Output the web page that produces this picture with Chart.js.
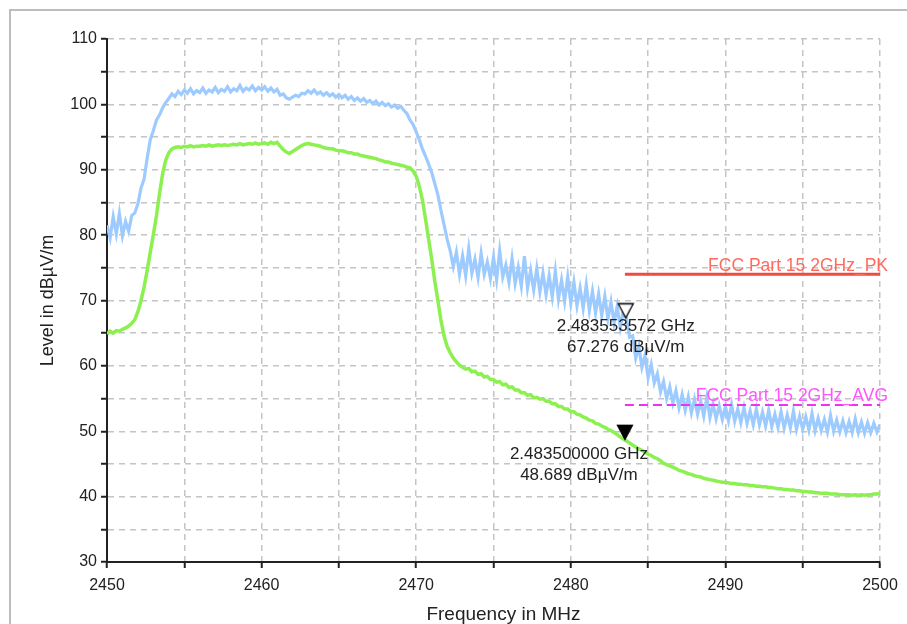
<!DOCTYPE html>
<html>
<head>
<meta charset="utf-8">
<script src="https://cdn.jsdelivr.net/npm/chart.js@4.4.1/dist/chart.umd.min.js"></script>
<style>
  html, body { margin: 0; padding: 0; background: #fff; }
  #wrap { position: relative; width: 907px; height: 624px; }
</style>
</head>
<body>
<div id="wrap"><canvas id="chart" width="907" height="624"></canvas></div>
<script>
// sweep 2450 - 2500 MHz, one reading every 0.2 MHz
const startFreq = 2450;
const stepMHz = 0.2;

// peak detector trace (blue), dBµV/m
const peakTrace = [
  81.5, 79.6, 82.8, 80.2, 83.3, 79.9, 82.1, 80.6, 83.0, 83.4,
  84.8, 87.2, 88.6, 91.8, 94.6, 96.0, 97.6, 98.4, 99.5, 100.3,
  100.9, 101.6, 101.2, 102.0, 101.5, 102.2, 101.7, 102.4, 101.6, 102.1,
  101.8, 102.5, 101.7, 102.2, 101.9, 102.6, 101.8, 102.3, 102.0, 102.7,
  101.9, 102.4, 102.1, 102.9, 102.0, 102.5, 102.2, 102.8, 102.1, 102.6,
  102.2, 102.7, 102.0, 102.5, 101.9, 102.3, 101.4, 101.6, 101.0, 100.8,
  101.1, 101.4, 101.2, 101.7, 101.6, 102.1, 101.7, 102.2, 101.6, 101.9,
  101.4, 101.8, 101.3, 101.6, 101.1, 101.5, 101.0, 101.4, 100.8, 101.2,
  100.6, 101.0, 100.5, 100.9, 100.3, 100.6, 100.1, 100.5, 99.9, 100.3,
  99.8, 100.1, 99.6, 99.9, 99.4, 99.7, 99.1, 98.6, 97.6, 96.9,
  95.8, 94.6, 93.2, 92.1, 90.9, 89.6, 87.9, 86.2, 83.8, 81.6,
  79.4, 77.6, 75.2, 77.4, 74.0, 76.8, 73.8, 77.9, 74.2, 76.3,
  73.5, 77.2, 74.0, 75.9, 73.4, 76.6, 73.2, 77.6, 73.6, 75.4,
  72.8, 76.4, 72.6, 75.1, 72.2, 76.8, 71.9, 74.6, 71.6, 74.9,
  71.3, 74.2, 70.9, 73.8, 70.6, 74.5, 70.2, 73.1, 69.9, 73.6,
  69.6, 72.8, 69.2, 71.9, 68.8, 72.4, 68.5, 71.4, 68.1, 71.0,
  67.7, 70.6, 67.2, 69.8, 66.6, 69.1, 65.9, 68.4, 67.3, 64.4,
  64.6, 61.2, 63.0, 59.8, 61.6, 58.2, 60.2, 57.4, 58.8, 56.0,
  57.6, 55.0, 56.8, 54.3, 56.2, 53.6, 55.6, 53.2, 55.3, 52.8,
  54.9, 52.6, 54.6, 52.3, 55.2, 52.1, 54.2, 51.9, 53.9, 51.8,
  53.8, 51.6, 54.1, 51.5, 53.4, 51.3, 53.6, 51.2, 53.1, 51.0,
  53.4, 51.0, 52.9, 50.8, 53.2, 50.7, 52.6, 50.6, 53.0, 50.5,
  52.5, 50.5, 53.1, 50.3, 52.3, 50.3, 52.2, 50.2, 52.7, 50.1,
  52.0, 50.1, 51.8, 49.9, 52.4, 50.0, 51.7, 49.9, 51.6, 49.8,
  51.5, 49.8, 51.9, 49.8, 51.4, 49.7, 51.3, 49.8, 51.2, 49.9,
  51.0
];

// average detector trace (green), dBµV/m
const avgTrace = [
  64.9, 65.3, 65.0, 65.4, 65.3, 65.6, 65.8, 66.1, 66.5, 67.1,
  68.3, 70.0, 72.1, 74.6, 77.4, 80.1, 83.0, 86.4, 89.4, 91.5,
  92.6, 93.2, 93.4, 93.5, 93.4, 93.6, 93.5, 93.7, 93.5, 93.6,
  93.6, 93.7, 93.6, 93.8, 93.6, 93.7, 93.8, 93.7, 93.8, 93.7,
  93.8, 93.9, 93.8, 94.0, 93.8, 93.9, 94.0, 93.9, 94.1, 93.9,
  94.0, 94.1, 93.9, 94.2, 94.0, 94.2, 93.6, 93.1, 92.7, 92.5,
  92.8, 93.1, 93.4, 93.7, 93.9, 94.0, 93.9, 93.8, 93.7, 93.6,
  93.4, 93.3, 93.2, 93.2, 93.0, 92.9, 92.9, 92.8, 92.6, 92.6,
  92.4, 92.4, 92.2, 92.1, 92.0, 91.9, 91.8, 91.7, 91.5, 91.4,
  91.2, 91.2, 91.0, 90.9, 90.8, 90.7, 90.6, 90.4, 90.3, 89.8,
  89.0, 87.5, 85.4, 82.5, 79.4, 76.4, 73.0, 70.0, 67.0, 64.6,
  63.0, 62.0, 61.2, 60.6, 60.1, 59.8, 59.5, 59.6, 59.1, 59.2,
  58.7, 58.8, 58.3, 58.4, 57.9, 57.9, 57.5, 57.6, 57.1, 57.2,
  56.7, 56.8, 56.3, 56.3, 55.9, 55.9, 55.5, 55.6, 55.1, 55.2,
  54.9, 55.0, 54.6, 54.6, 54.2, 54.2, 53.8, 53.8, 53.4, 53.4,
  53.0, 53.0, 52.6, 52.5, 52.2, 52.0, 51.7, 51.6, 51.2, 51.1,
  50.8, 50.6, 50.3, 50.1, 49.8, 49.5, 49.1, 48.8, 48.5, 48.2,
  47.9, 47.6, 47.3, 47.1, 46.8, 46.5, 46.3, 46.0, 45.8, 45.5,
  45.1, 44.9, 44.7, 44.5, 44.3, 44.0, 43.9, 43.7, 43.5, 43.4,
  43.2, 43.1, 43.0, 42.8, 42.7, 42.6, 42.5, 42.4, 42.3, 42.2,
  42.2, 42.1, 42.0, 42.0, 41.9, 41.9, 41.8, 41.8, 41.7, 41.7,
  41.6, 41.6, 41.5, 41.5, 41.4, 41.4, 41.3, 41.2, 41.2, 41.1,
  41.1, 41.0, 41.0, 40.9, 40.9, 40.8, 40.8, 40.7, 40.7, 40.6,
  40.6, 40.5, 40.5, 40.5, 40.4, 40.4, 40.4, 40.3, 40.3, 40.3,
  40.3, 40.2, 40.3, 40.2, 40.3, 40.2, 40.3, 40.3, 40.4, 40.4,
  40.5
];

// limit lines
const limitFreq = [2483.5, 2500];
const pkLimit = [74, 74];
const avgLimit = [54, 54];
const pkLimitName = 'FCC Part 15 2GHz_PK';
const avgLimitName = 'FCC Part 15 2GHz_AVG';

// markers: [peak marker, avg marker]
const markerFreq = [2483.553572, 2483.5];
const markerLevel = [67.276, 48.689];
const markerText = [
  ['2.483553572 GHz', '67.276 dBµV/m'],
  ['2.483500000 GHz', '48.689 dBµV/m']
];

const freqs = peakTrace.map((_, i) => +(startFreq + i * stepMHz).toFixed(1));
const FONT = '"Liberation Sans", Arial, sans-serif';

// downward triangle whose tip sits in the middle of the image, so the tip lands on the value
function markerIcon(filled) {
  const c = document.createElement('canvas');
  c.width = 18; c.height = 32;
  const g = c.getContext('2d');
  g.beginPath();
  g.moveTo(1.5, 1.5);
  g.lineTo(16.5, 1.5);
  g.lineTo(9, 15.5);
  g.closePath();
  g.fillStyle = filled ? '#000' : '#fff';
  g.fill();
  g.lineWidth = 1.3;
  g.strokeStyle = '#000';
  g.stroke();
  return c;
}

const decor = {
  id: 'decor',
  beforeDraw(chart) {
    const ctx = chart.ctx;
    ctx.save();
    ctx.fillStyle = '#fff';
    ctx.fillRect(0, 0, chart.width, chart.height);
    ctx.strokeStyle = '#bdbdbd';
    ctx.lineWidth = 2;
    ctx.beginPath();
    ctx.moveTo(10, chart.height);
    ctx.lineTo(10, 10);
    ctx.lineTo(chart.width, 10);
    ctx.stroke();
    ctx.restore();
  },
  afterDatasetsDraw(chart) {
    const ctx = chart.ctx;
    const xs = chart.scales.x, ys = chart.scales.y;
    ctx.save();
    ctx.font = '17.5px ' + FONT;
    // limit line names
    ctx.textAlign = 'right';
    ctx.textBaseline = 'alphabetic';
    ctx.fillStyle = '#ff6a5e';
    ctx.fillText(pkLimitName, xs.right + 8, ys.getPixelForValue(pkLimit[1]) - 3);
    ctx.fillStyle = '#ff55ff';
    ctx.fillText(avgLimitName, xs.right + 8, ys.getPixelForValue(avgLimit[1]) - 4);
    // marker read-outs
    ctx.font = '17px ' + FONT;
    ctx.textAlign = 'center';
    ctx.textBaseline = 'middle';
    ctx.fillStyle = '#222';
    const shift = [[0, 8], [-46, 14]];
    markerFreq.forEach((f, i) => {
      const px = xs.getPixelForValue(f) + shift[i][0];
      const py = ys.getPixelForValue(markerLevel[i]) + shift[i][1];
      ctx.fillText(markerText[i][0], px, py);
      ctx.fillText(markerText[i][1], px, py + 21);
    });
    // x axis title, sits a little right of the plot centre
    ctx.font = '19px ' + FONT;
    ctx.textBaseline = 'middle';
    ctx.fillText('Frequency in MHz', (xs.left + xs.right) / 2 + 10, xs.bottom - 9);
    ctx.restore();
  }
};

const axisCommon = {
  type: 'linear',
  border: { display: true, color: '#222', width: 2, dash: [6, 5] },
  grid: { color: '#c4c4c4', lineWidth: 1.5, tickLength: 6, tickColor: '#222', tickWidth: 2, tickBorderDash: [] }
};

new Chart(document.getElementById('chart'), {
  type: 'line',
  data: {
    datasets: [
      {
        label: 'Marker',
        data: markerFreq.map((f, i) => ({ x: f, y: markerLevel[i] })),
        showLine: false,
        pointStyle: [markerIcon(false), markerIcon(true)],
        pointRadius: 9,
        order: 0
      },
      {
        label: pkLimitName,
        data: limitFreq.map((f, i) => ({ x: f, y: pkLimit[i] })),
        borderColor: '#f24a42',
        borderWidth: 3,
        pointRadius: 0,
        order: 1
      },
      {
        label: avgLimitName,
        data: limitFreq.map((f, i) => ({ x: f, y: avgLimit[i] })),
        borderColor: '#ee33ee',
        borderWidth: 2,
        borderDash: [9, 5],
        pointRadius: 0,
        order: 2
      },
      {
        label: 'AVG',
        data: freqs.map((f, i) => ({ x: f, y: avgTrace[i] })),
        borderColor: '#8cf050',
        borderWidth: 3.5,
        pointRadius: 0,
        tension: 0,
        order: 3
      },
      {
        label: 'PK',
        data: freqs.map((f, i) => ({ x: f, y: peakTrace[i] })),
        borderColor: '#9dcbff',
        borderWidth: 3.2,
        pointRadius: 0,
        tension: 0,
        order: 4
      }
    ]
  },
  options: {
    responsive: false,
    animation: false,
    layout: { padding: { top: 39, right: 27, left: 0, bottom: 0 } },
    plugins: { legend: { display: false }, tooltip: { enabled: false } },
    scales: {
      x: {
        ...axisCommon,
        min: 2450, max: 2500,
        afterFit(s) { s.height = 62; },
        ticks: {
          stepSize: 5, autoSkip: false, maxRotation: 0, padding: 8,
          color: '#222', font: { size: 16, family: FONT },
          callback: v => (v % 10 === 0 ? String(v) : '')
        }
      },
      y: {
        ...axisCommon,
        min: 30, max: 110,
        afterFit(s) { s.width = 107; },
        ticks: {
          stepSize: 5, autoSkip: false, padding: 4,
          color: '#222', font: { size: 16, family: FONT },
          callback: v => (v % 10 === 0 ? String(v) : '')
        },
        title: { display: true, text: 'Level in dBµV/m', color: '#222', font: { size: 18, family: FONT }, padding: { top: 37, bottom: 0 } }
      }
    }
  },
  plugins: [decor]
});
</script>
</body>
</html>
